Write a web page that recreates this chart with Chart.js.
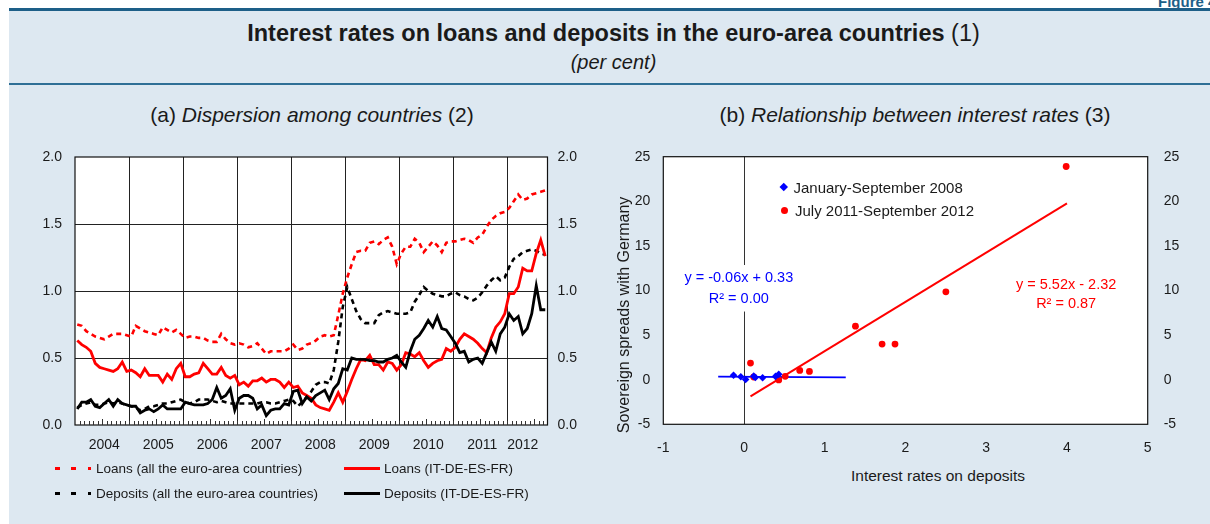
<!DOCTYPE html>
<html>
<head>
<meta charset="utf-8">
<script src="https://cdn.jsdelivr.net/npm/chart.js@4.4.0/dist/chart.umd.min.js"></script>
<style>
  html, body { margin: 0; padding: 0; width: 1210px; height: 524px; overflow: hidden; background: #fff;
    font-family: 'Liberation Sans', Arial, Helvetica, sans-serif; color: #1a1a1a; }
  #fig { position: absolute; left: 1158px; top: -7px; font-weight: bold; font-size: 15px; color: #1d5f88; white-space: nowrap; }
  #panel { position: absolute; left: 9px; top: 8px; width: 1201px; height: 520px; background: #dde8f1; border-top: 3px solid #1d5f88; }
  #rule2 { position: absolute; left: 9px; top: 83px; width: 1201px; height: 2px; background: #2f6f96; }
  .centered { position: absolute; text-align: center; white-space: nowrap; }
  #title { left: 17px; right: 0; top: 20px; font-size: 23.5px; line-height: 26px; }
  #unit { left: 17px; right: 0; top: 50px; font-size: 20px; line-height: 24px; font-style: italic; }
  .sub { top: 102px; font-size: 21px; line-height: 25px; }
  #subA { left: 12px; width: 600px; }
  #subB { left: 615px; width: 600px; }
  canvas { position: absolute; }
  #chartA { left: 0; top: 140px; }
  #chartB { left: 600px; top: 140px; }
  .leg { position: absolute; display: flex; align-items: center; font-size: 13.5px; white-space: nowrap; height: 18px; }
  .sample { width: 36px; height: 3px; margin-right: 5px; }
  .dashRed { background: repeating-linear-gradient(90deg, #ff0000 0 5px, transparent 5px 16.5px); }
  .dashBlack { background: repeating-linear-gradient(90deg, #000 0 5px, transparent 5px 16.5px); }
  .solidRed { background: #ff0000; margin-right: 4px; }
  .solidBlack { background: #000; margin-right: 4px; }
  .mark { width: 7px; height: 7px; margin-right: 7px; margin-left: 1px; }
  .diamond { background: #0000ff; transform: rotate(45deg); width: 5.5px; height: 5.5px; }
  .dot { background: #ff0000; border-radius: 50%; }
  #xTitleB { position: absolute; left: 838px; width: 200px; top: 467px; font-size: 15.5px; text-align: center; }
  #yTitleB { position: absolute; left: 474px; top: 305px; width: 300px; height: 20px; line-height: 20px;
    font-size: 16px; text-align: center; transform: rotate(-90deg); white-space: nowrap; }
</style>
</head>
<body>
<div id="fig">Figure 4.1</div>
<div id="panel"></div>
<div id="rule2"></div>
<div id="title" class="centered"><b>Interest rates on loans and deposits in the euro-area countries</b> (1)</div>
<div id="unit" class="centered">(per cent)</div>
<div id="subA" class="centered sub">(a) <i>Dispersion among countries</i> (2)</div>
<div id="subB" class="centered sub">(b) <i>Relationship between interest rates</i> (3)</div>

<canvas id="chartA" width="600" height="320"></canvas>
<canvas id="chartB" width="610" height="320"></canvas>

<div class="leg" style="left:55px; top:459px;"><span class="sample dashRed"></span>Loans (all the euro-area countries)</div>
<div class="leg" style="left:344px; top:459px;"><span class="sample solidRed"></span>Loans (IT-DE-ES-FR)</div>
<div class="leg" style="left:55px; top:484px;"><span class="sample dashBlack"></span>Deposits (all the euro-area countries)</div>
<div class="leg" style="left:344px; top:484px;"><span class="sample solidBlack"></span>Deposits (IT-DE-ES-FR)</div>

<div class="leg" style="left:780px; top:178px; font-size:15px;"><span class="mark diamond"></span>January-September 2008</div>
<div class="leg" style="left:780px; top:201px; font-size:15px;"><span class="mark dot"></span>July 2011-September 2012</div>
<div id="xTitleB">Interest rates on deposits</div>
<div id="yTitleB">Sovereign spreads with Germany</div>

<script>
// ---- panel (a): monthly dispersion, Jan 2004 - Sep 2012 ----
var years = ['2004', '2005', '2006', '2007', '2008', '2009', '2010', '2011', '2012'];
var monthsInYear = [12, 12, 12, 12, 12, 12, 12, 12, 9];

var loansEuroArea = [
  0.75, 0.74, 0.70, 0.68, 0.66, 0.65, 0.64, 0.66, 0.68, 0.68, 0.68, 0.67,
  0.66, 0.74, 0.72, 0.70, 0.69, 0.68, 0.67, 0.73, 0.71, 0.69, 0.71, 0.68,
  0.65, 0.66, 0.66, 0.65, 0.65, 0.63, 0.62, 0.62, 0.68, 0.64, 0.61, 0.60,
  0.61, 0.60, 0.58, 0.59, 0.61, 0.57, 0.53, 0.55, 0.55, 0.55, 0.55, 0.57,
  0.60, 0.56, 0.57, 0.60, 0.61, 0.63, 0.66, 0.67, 0.66, 0.67, 0.82, 0.98,
  1.10, 1.20, 1.29, 1.30, 1.30, 1.36, 1.37, 1.35, 1.38, 1.40, 1.33, 1.20,
  1.28, 1.33, 1.33, 1.39, 1.36, 1.29, 1.33, 1.37, 1.34, 1.29, 1.36, 1.37,
  1.37, 1.38, 1.39, 1.38, 1.36, 1.40, 1.42, 1.48, 1.53, 1.56, 1.58, 1.59,
  1.62, 1.67, 1.72, 1.68, 1.69, 1.72, 1.73, 1.74, 1.75
];
var loansBig4 = [
  0.63, 0.60, 0.58, 0.55, 0.46, 0.43, 0.42, 0.41, 0.40, 0.42, 0.47, 0.40,
  0.41, 0.39, 0.36, 0.42, 0.37, 0.37, 0.37, 0.32, 0.38, 0.34, 0.42, 0.46,
  0.36, 0.36, 0.38, 0.39, 0.46, 0.42, 0.38, 0.38, 0.43, 0.37, 0.35, 0.37,
  0.30, 0.32, 0.29, 0.33, 0.33, 0.35, 0.32, 0.34, 0.34, 0.32, 0.28, 0.32,
  0.28, 0.29, 0.24, 0.22, 0.20, 0.15, 0.13, 0.12, 0.11, 0.17, 0.24, 0.17,
  0.25, 0.34, 0.42, 0.49, 0.48, 0.52, 0.45, 0.45, 0.41, 0.47, 0.46, 0.41,
  0.45, 0.54, 0.53, 0.51, 0.54, 0.48, 0.43, 0.46, 0.48, 0.49, 0.57, 0.55,
  0.58, 0.64, 0.68, 0.66, 0.64, 0.61, 0.57, 0.54, 0.65, 0.73, 0.77, 0.83,
  0.98, 0.98, 1.03, 1.17, 1.15, 1.15, 1.28, 1.38, 1.26
];
var depositsEuroArea = [
  0.13, 0.15, 0.16, 0.17, 0.15, 0.15, 0.16, 0.17, 0.16, 0.17, 0.16, 0.15,
  0.14, 0.13, 0.11, 0.12, 0.14, 0.14, 0.15, 0.16, 0.16, 0.17, 0.18, 0.19,
  0.17, 0.16, 0.17, 0.19, 0.19, 0.19, 0.18, 0.17, 0.18, 0.17, 0.16, 0.16,
  0.16, 0.16, 0.16, 0.16, 0.16, 0.17, 0.17, 0.16, 0.16, 0.17, 0.18, 0.19,
  0.18, 0.14, 0.17, 0.21, 0.25, 0.30, 0.32, 0.32, 0.31, 0.41, 0.62, 0.88,
  1.03, 0.94, 0.85, 0.79, 0.76, 0.76, 0.76, 0.82, 0.84, 0.85, 0.84, 0.83,
  0.83, 0.83, 0.84, 0.92, 0.97, 1.03, 1.00, 0.98, 0.97, 0.96, 0.96, 0.98,
  0.99, 0.97, 0.96, 0.94, 0.93, 0.95, 0.99, 1.04, 1.08, 1.11, 1.08, 1.10,
  1.18, 1.24, 1.26, 1.29, 1.30, 1.31, 1.30, 1.28, 1.27
];
var depositsBig4 = [
  0.12, 0.17, 0.17, 0.19, 0.14, 0.13, 0.16, 0.19, 0.14, 0.19, 0.16, 0.15,
  0.14, 0.14, 0.09, 0.11, 0.12, 0.10, 0.12, 0.15, 0.12, 0.12, 0.12, 0.12,
  0.17, 0.16, 0.15, 0.15, 0.15, 0.16, 0.19, 0.28, 0.20, 0.22, 0.27, 0.11,
  0.20, 0.22, 0.22, 0.20, 0.12, 0.15, 0.07, 0.11, 0.12, 0.12, 0.16, 0.15,
  0.25, 0.26, 0.16, 0.21, 0.18, 0.22, 0.24, 0.26, 0.19, 0.27, 0.31, 0.42,
  0.41, 0.50, 0.49, 0.49, 0.49, 0.48, 0.48, 0.47, 0.47, 0.49, 0.50, 0.52,
  0.47, 0.43, 0.55, 0.64, 0.67, 0.72, 0.78, 0.73, 0.81, 0.72, 0.71, 0.66,
  0.61, 0.54, 0.55, 0.47, 0.49, 0.50, 0.46, 0.54, 0.62, 0.55, 0.68, 0.73,
  0.83, 0.78, 0.81, 0.68, 0.72, 0.83, 1.04, 0.86, 0.86
];
var percentTicks = [0, 0.5, 1, 1.5, 2];

// ---- panel (b): deposit rates vs sovereign spreads ----
var rates2008 = [-0.13, -0.04, 0.02, 0.12, 0.14, 0.23, 0.39, 0.43];
var spreads2008 = [0.50, 0.33, 0.02, 0.40, 0.25, 0.22, 0.37, 0.60];
var rates2011 = [0.08, 0.12, 0.43, 0.51, 0.69, 0.81, 1.38, 1.71, 1.87, 2.50, 3.99];
var spreads2011 = [1.86, 0.30, -0.02, 0.38, 1.04, 0.93, 6.00, 3.99, 3.99, 9.85, 23.9];
var trendX2008 = [-0.32, 1.26];
var trendY2008 = [0.35, 0.25];
var trendX2011 = [0.08, 4.0];
var trendY2011 = [-1.88, 19.76];

var FONT = "'Liberation Sans', Arial, Helvetica, sans-serif";
Chart.defaults.font.family = FONT;
Chart.defaults.font.size = 14;
Chart.defaults.color = '#1a1a1a';

var CLEAR = 'rgba(0,0,0,0)';

// month labels, e.g. "7/2004"
var monthLabels = [];
years.forEach(function (yr, k) {
  for (var m = 1; m <= monthsInYear[k]; m++) monthLabels.push(m + '/' + yr);
});

// white plot background and black frame round it
var plotFrame = {
  id: 'plotFrame',
  beforeDraw: function (chart) {
    var a = chart.chartArea, ctx = chart.ctx;
    ctx.save();
    ctx.fillStyle = '#fff';
    ctx.fillRect(a.left, a.top, a.right - a.left, a.bottom - a.top);
    ctx.restore();
  },
  afterDraw: function (chart) {
    var a = chart.chartArea, ctx = chart.ctx;
    ctx.save();
    ctx.strokeStyle = '#111';
    ctx.lineWidth = 1.2;
    ctx.strokeRect(a.left, a.top, a.right - a.left, a.bottom - a.top);
    ctx.restore();
  }
};

// small month ticks inside the bottom edge
var monthTicks = {
  id: 'monthTicks',
  afterDraw: function (chart) {
    var x = chart.scales.x, ctx = chart.ctx, bottom = chart.chartArea.bottom;
    var step = x.getPixelForValue(1) - x.getPixelForValue(0);
    ctx.save();
    ctx.strokeStyle = '#333';
    ctx.lineWidth = 1;
    for (var i = 1; i < monthLabels.length; i++) {
      var px = Math.round(x.getPixelForValue(i) - step / 2) + 0.5;
      var len = (i % 12 === 6) ? 6 : 4;
      ctx.beginPath();
      ctx.moveTo(px, bottom);
      ctx.lineTo(px, bottom - len);
      ctx.stroke();
    }
    ctx.restore();
  }
};

function lineSet(label, data, color, dashed) {
  return {
    label: label,
    data: data,
    borderColor: color,
    borderWidth: dashed ? 2.6 : 2.8,
    borderDash: dashed ? [5, 4] : [],
    pointRadius: 0,
    tension: 0,
    fill: false
  };
}

// side axis: invisible tick marks give the gap between labels and frame
function sideGrid(gap, lineColor) {
  return { display: true, drawTicks: true, tickLength: gap, tickColor: CLEAR, color: lineColor || CLEAR };
}

new Chart(document.getElementById('chartA'), {
  type: 'line',
  data: {
    labels: monthLabels,
    datasets: [
      lineSet('Deposits (IT-DE-ES-FR)', depositsBig4, '#000', false),
      lineSet('Loans (IT-DE-ES-FR)', loansBig4, '#ff0000', false),
      lineSet('Deposits (all the euro-area countries)', depositsEuroArea, '#000', true),
      lineSet('Loans (all the euro-area countries)', loansEuroArea, '#ff0000', true)
    ]
  },
  options: {
    responsive: false,
    animation: false,
    layout: { padding: { top: 17, left: 0, right: 0, bottom: 0 } },
    plugins: { legend: { display: false }, tooltip: { enabled: false } },
    scales: {
      x: {
        offset: true,
        grid: {
          offset: true,
          drawTicks: false,
          color: function (c) {
            return (c.index % 12 === 0 && c.index > 0 && c.index < monthLabels.length) ? '#222' : CLEAR;
          }
        },
        border: { display: false },
        ticks: {
          autoSkip: false,
          maxRotation: 0,
          minRotation: 0,
          padding: 12,
          callback: function (value, index) {
            var parts = monthLabels[index].split('/');
            var n = monthsInYear[years.indexOf(parts[1])];
            var mid = n === 12 ? 7 : Math.floor(n / 2);
            return Number(parts[0]) === mid ? parts[1] : '';
          }
        },
        afterFit: function (s) { s.height = 35; }
      },
      y: {
        min: 0, max: 2,
        afterBuildTicks: function (s) { s.ticks = percentTicks.map(function (v) { return { value: v }; }); },
        ticks: { padding: 3, callback: function (v) { return v.toFixed(1); } },
        grid: sideGrid(10, function (c) { return (c.tick && c.tick.value > 0 && c.tick.value < 2) ? '#222' : CLEAR; }),
        border: { display: false },
        afterFit: function (s) { s.width = 75; }
      },
      y1: {
        position: 'right',
        min: 0, max: 2,
        afterBuildTicks: function (s) { s.ticks = percentTicks.map(function (v) { return { value: v }; }); },
        ticks: { padding: 3, callback: function (v) { return v.toFixed(1); } },
        grid: sideGrid(7),
        border: { display: false },
        afterFit: function (s) { s.width = 52.5; }
      }
    }
  },
  plugins: [plotFrame, monthTicks]
});

// regression equations written inside panel (b)
var equations = [
  { lines: ['y = -0.06x + 0.33', 'R\u00b2 = 0.00'], x: -0.065, y: [11.4, 9.1], color: '#0000ff', box: true },
  { lines: ['y = 5.52x - 2.32', 'R\u00b2 = 0.87'], x: 3.99, y: [10.6, 8.5], color: '#ff0000', box: false }
];

var equationLabels = {
  id: 'equationLabels',
  beforeDatasetsDraw: function (chart) {
    var ctx = chart.ctx, xs = chart.scales.x, ys = chart.scales.y;
    ctx.save();
    ctx.font = '14.5px ' + FONT;
    ctx.textAlign = 'center';
    ctx.textBaseline = 'middle';
    equations.forEach(function (eq) {
      var px = xs.getPixelForValue(eq.x);
      if (eq.box) {
        var w = ctx.measureText(eq.lines[0]).width + 8;
        var top = ys.getPixelForValue(eq.y[0]) - 13;
        var bot = ys.getPixelForValue(eq.y[1]) + 13;
        ctx.fillStyle = '#fff';
        ctx.fillRect(px - w / 2, top, w, bot - top);
      }
      ctx.fillStyle = eq.color;
      eq.lines.forEach(function (t, k) {
        ctx.fillText(t, px, ys.getPixelForValue(eq.y[k]));
      });
    });
    ctx.restore();
  }
};

function pairs(xs, ys) {
  return xs.map(function (x, i) { return { x: x, y: ys[i] }; });
}

new Chart(document.getElementById('chartB'), {
  type: 'scatter',
  data: {
    datasets: [
      {
        label: 'January-September 2008',
        data: pairs(rates2008, spreads2008),
        pointStyle: 'rectRot',
        pointRadius: 3.8,
        backgroundColor: '#0000ff',
        borderColor: '#0000ff',
        borderWidth: 0
      },
      {
        label: 'July 2011-September 2012',
        data: pairs(rates2011, spreads2011),
        pointStyle: 'circle',
        pointRadius: 3.4,
        backgroundColor: '#ff0000',
        borderColor: '#ff0000',
        borderWidth: 0
      },
      {
        label: 'trend 2008',
        data: pairs(trendX2008, trendY2008),
        showLine: true,
        borderColor: '#0000ff',
        borderWidth: 1.8,
        pointRadius: 0
      },
      {
        label: 'trend 2011-2012',
        data: pairs(trendX2011, trendY2011),
        showLine: true,
        borderColor: '#ff0000',
        borderWidth: 2,
        pointRadius: 0
      }
    ]
  },
  options: {
    responsive: false,
    animation: false,
    layout: { padding: { top: 16.7, left: 0, right: 0, bottom: 0 } },
    plugins: { legend: { display: false }, tooltip: { enabled: false } },
    scales: {
      x: {
        type: 'linear',
        min: -1, max: 5,
        ticks: { stepSize: 1, padding: 15 },
        grid: {
          drawTicks: false,
          color: function (c) { return c.tick && c.tick.value === 0 ? '#333' : CLEAR; }
        },
        border: { display: false },
        afterFit: function (s) { s.height = 35.7; }
      },
      y: {
        min: -5, max: 25,
        ticks: { stepSize: 5, padding: 3 },
        grid: sideGrid(10),
        border: { display: false },
        afterFit: function (s) { s.width = 63.3; }
      },
      y1: {
        position: 'right',
        min: -5, max: 25,
        ticks: { stepSize: 5, padding: 3 },
        grid: sideGrid(13),
        border: { display: false },
        afterFit: function (s) { s.width = 62.3; }
      }
    }
  },
  plugins: [plotFrame, equationLabels]
});
</script>
</body>
</html>
